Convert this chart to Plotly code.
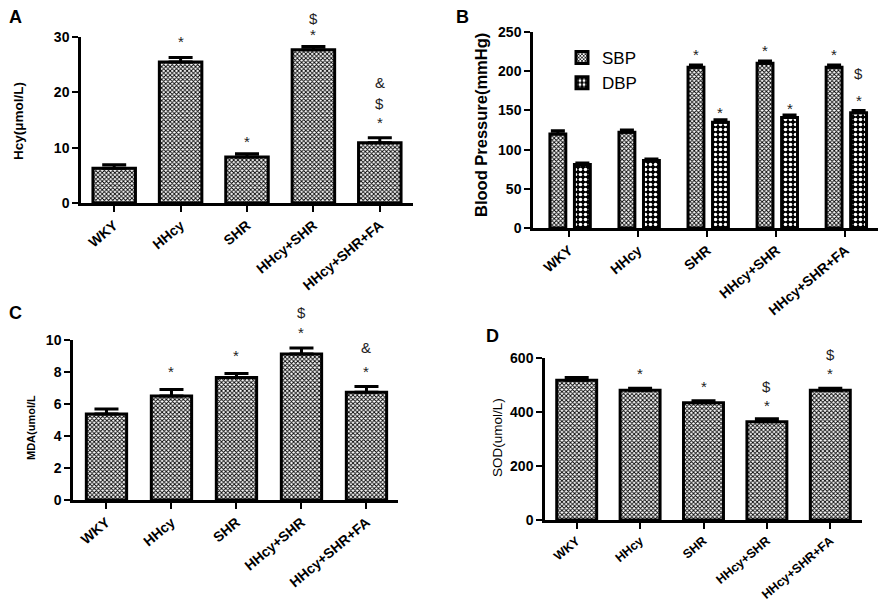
import plotly.graph_objects as go

groups = ["WKY", "HHcy", "SHR", "HHcy+SHR", "HHcy+SHR+FA"]

hcy = [6.3, 25.5, 8.3, 27.7, 10.9]
hcy_err = [0.6, 0.8, 0.6, 0.6, 0.9]

sbp = [120, 122, 205, 210, 205]
sbp_err = [4, 3, 3, 3, 3]
dbp = [81, 86, 135, 141, 147]
dbp_err = [2, 2, 3, 3, 3]

mda = [5.37, 6.5, 7.65, 9.12, 6.73]
mda_err = [0.32, 0.4, 0.25, 0.38, 0.37]

sod = [517, 480, 433, 363, 480]
sod_err = [10, 7, 8, 11, 7]

# significance marks: (x index, y value, text)
marks_a = [(1, 29.1, "*"), (2, 11.2, "*"), (3, 30.5, "*"), (3, 33.4, "$"),
           (4, 14.6, "*"), (4, 17.9, "$"), (4, 21.7, "&")]
marks_b = [(2, -0.165, 220.7, "*"), (2, 0.19, 146.7, "*"),
           (3, -0.165, 227, "*"), (3, 0.19, 153, "*"),
           (4, -0.165, 220.7, "*"), (4, 0.19, 163, "*"), (4, 0.19, 197.7, "$")]
marks_c = [(1, 8.06, "*"), (2, 9.06, "*"), (3, 10.44, "*"), (3, 11.75, "$"),
           (4, 8.06, "*"), (4, 9.56, "&")]
marks_d = [(1, 540, "*"), (2, 494, "*"), (3, 422.6, "*"), (3, 493, "$"),
           (4, 540, "*"), (4, 610, "$")]

W, H, OFF = 886, 601, 8   # page body margin offsets the figure by 8 px

def px_x(X):
    return (X - OFF) / W

def px_y(Y):
    return 1 - (Y - OFF) / H

def dom_px(x0, x1, ytop, ybot, top):
    return ([px_x(x0), px_x(x1)], [px_y(ybot), px_y(ytop)], top)

dom = {
    "a": dom_px(81, 413, 37, 203, 30),
    "b": dom_px(533, 880, 32, 228, 250),
    "c": dom_px(73, 398, 340, 500, 10),
    "d": dom_px(545, 862, 357.7, 520, 600),
}

FONT = "Arial, Liberation Sans, sans-serif"
fine = dict(shape="x", size=3, solidity=0.5, fgcolor="black", bgcolor="white")
coarse = dict(shape=".", size=5, solidity=0.4, fgcolor="white", bgcolor="black")
line = dict(color="black", width=3)

fig = go.Figure()

def single(vals, errs, xa, ya, width, capw):
    fig.add_trace(go.Bar(
        x=groups, y=vals, xaxis=xa, yaxis=ya, width=width,
        marker=dict(color="white", pattern=fine, line=line),
        error_y=dict(type="data", array=errs, arrayminus=[0]*len(errs),
                     symmetric=False, color="black", thickness=3, width=capw),
        showlegend=False))

single(hcy, hcy_err, "x", "y", 0.64, 12)
fig.add_trace(go.Bar(
    x=groups, y=sbp, xaxis="x2", yaxis="y2", name="SBP", width=0.23, offset=-0.28,
    marker=dict(color="white", pattern=fine, line=line),
    error_y=dict(type="data", array=sbp_err, arrayminus=[0]*5, symmetric=False,
                 color="black", thickness=3, width=7)))
fig.add_trace(go.Bar(
    x=groups, y=dbp, xaxis="x2", yaxis="y2", name="DBP", width=0.23, offset=0.075,
    marker=dict(color="white", pattern=coarse, line=line),
    error_y=dict(type="data", array=dbp_err, arrayminus=[0]*5, symmetric=False,
                 color="black", thickness=3, width=7)))
single(mda, mda_err, "x3", "y3", 0.62, 12)
single(sod, sod_err, "x4", "y4", 0.63, 12)

tickf = dict(family=FONT, size=14, color="black", weight="bold")
def xax(domain, rng, anchor, size=14):
    return dict(domain=domain, range=rng, anchor=anchor, showline=True, linecolor="black",
                linewidth=2.5, ticks="outside", ticklen=6, tickwidth=2, tickcolor="black",
                tickangle=-40, tickfont=dict(family=FONT, size=size, color="black", weight="bold"),
                showgrid=False, zeroline=False, automargin=False)
def yax(domain, rng, dtick, anchor):
    return dict(domain=domain, range=rng, dtick=dtick, anchor=anchor, showline=True,
                linecolor="black", linewidth=2.5, ticks="outside", ticklen=6, tickwidth=2,
                tickcolor="black", tickfont=tickf, showgrid=False, zeroline=False,
                automargin=False)

fig.update_layout(
    template="none",
    width=W, height=H, margin=dict(l=0, r=0, t=0, b=0, pad=0),
    paper_bgcolor="white", plot_bgcolor="white", barmode="overlay",
    font=dict(family=FONT, color="black"),
    xaxis=xax(dom["a"][0], [-0.5, 4.5], "y"),
    yaxis=yax(dom["a"][1], [0, 30], 10, "x"),
    xaxis2=xax(dom["b"][0], [-0.525, 4.5], "y2"),
    yaxis2=yax(dom["b"][1], [0, 250], 50, "x2"),
    xaxis3=xax(dom["c"][0], [-0.515, 4.485], "y3"),
    yaxis3=yax(dom["c"][1], [0, 10], 2, "x3"),
    xaxis4=xax(dom["d"][0], [-0.5, 4.5], "y4", size=12.5),
    yaxis4=yax(dom["d"][1], [0, 600], 200, "x4"),
    legend=dict(x=px_x(562), y=px_y(40), xanchor="left", yanchor="top",
                bgcolor="rgba(0,0,0,0)",
                font=dict(family=FONT, size=17, color="black"), tracegroupgap=4,
                itemwidth=30),
)

ann = []
mfont = dict(family=FONT, size=15, color="#222")

def paper_y(key, v):
    (_, (y0, y1), top) = dom[key]
    return y0 + (y1 - y0) * v / top

def mark(xv, key, yv, xref, t):
    ann.append(dict(x=xv, y=paper_y(key, yv), xref=xref, yref="paper", text=t,
                    showarrow=False, xanchor="center", yanchor="middle", font=mfont))

for i, y, t in marks_a:
    mark(i, "a", y, "x", t)
for i, o, y, t in marks_b:
    mark(i + o, "b", y, "x2", t)
for i, y, t in marks_c:
    mark(i, "c", y, "x3", t)
for i, y, t in marks_d:
    mark(i, "d", y, "x4", t)

def ptxt(text, X, Y, size, bold=True, angle=0):
    ann.append(dict(x=px_x(X), y=px_y(Y), xref="paper", yref="paper", text=text,
                    showarrow=False, textangle=angle, xanchor="center", yanchor="middle",
                    font=dict(family=FONT, size=size, color="black",
                              weight="bold" if bold else "normal")))

ptxt("A", 15, 17, 18)
ptxt("B", 462, 17, 18)
ptxt("C", 15, 313, 18)
ptxt("D", 493, 336, 18)
ptxt("Hcy(μmol/L)", 18, 121, 13.5, True, -90)
ptxt("Blood Pressure(mmHg)", 481, 125, 16.5, True, -90)
ptxt("MDA(umol/L", 31, 428, 11, True, -90)
ptxt("SOD(umol/L)", 497, 438, 13.5, False, -90)

fig.update_layout(annotations=ann)
fig.write_html("out.html")
